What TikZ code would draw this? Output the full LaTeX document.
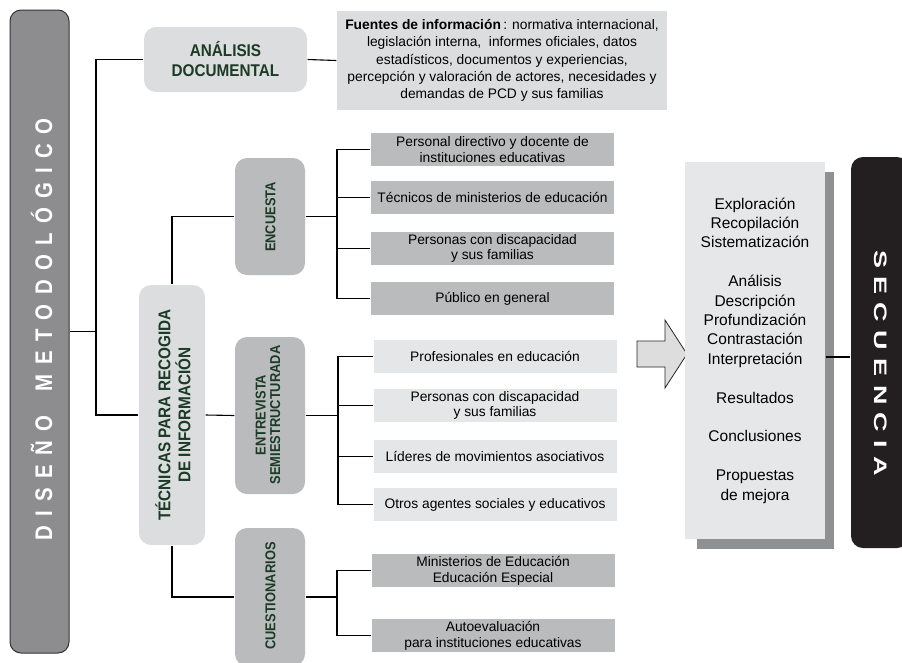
\documentclass[tikz,border=0pt]{standalone}
\usepackage{fontspec}
\setmainfont{Liberation Sans}
\newfontfamily\hdfont[FakeStretch=0.9]{Liberation Sans}
\newfontfamily\disfont[FakeStretch=0.85]{Liberation Sans}
\newfontfamily\secfont[FakeStretch=1.5]{Liberation Sans}

% letras separadas
\newcommand\spacedtext[2]{\def\gapw{#1}\spacedloop#2\relax}
\def\spacedloop#1{\ifx#1\relax\else#1\hskip\gapw\expandafter\spacedloop\fi}

\definecolor{disgray}{HTML}{8D8D8F}
\definecolor{disline}{HTML}{333333}
\definecolor{lightbox}{HTML}{DCDDDE}
\definecolor{midbox}{HTML}{BABBBD}
\definecolor{lightitem}{HTML}{E5E6E7}
\definecolor{seqgray}{HTML}{E6E7E8}
\definecolor{shadowgray}{HTML}{8F9092}
\definecolor{arrowgray}{HTML}{DDDDDD}
\definecolor{secblack}{HTML}{231F20}
\definecolor{headgreen}{HTML}{1B3B26}

\begin{document}
\begin{tikzpicture}[x=1pt, y=-1pt, line width=1.1pt,
	every node/.style={inner sep=0pt},
	hd/.style={text=headgreen, align=center, font=\hdfont\bfseries\fontsize{17}{20}\selectfont},
	hds/.style={text=headgreen, align=center, font=\hdfont\bfseries\fontsize{14.3}{14.5}\selectfont},
	item/.style={minimum width=243pt, minimum height=33pt, align=center, font=\fontsize{13.8}{15.8}\selectfont}]
	\useasboundingbox (0,0) rectangle (902,662);

	% diseno
	\node[draw=disline, line width=1pt, fill=disgray, rounded corners=11pt,
		minimum width=59pt, minimum height=643pt] (dis) at (39.5,331.5) {};
	\node[rotate=90, text=white, font=\disfont\bfseries\fontsize{24}{26}\selectfont] (dist) at (41.5,329.4)
		{\spacedtext{9.3pt}{DISEÑO~METODOLÓGICO}};

	\node[fill=lightbox, rounded corners=12pt, minimum width=163pt, minimum height=65pt] (ana) at (225.5,59.5) {};
	\node[hd] (anat) at (ana) {ANÁLISIS\\DOCUMENTAL};
	\node[fill=lightbox, minimum width=330pt, minimum height=99pt, align=center,
		font=\fontsize{13.8}{17.2}\selectfont] (fue) at (502,60.5)
		{\textbf{Fuentes de información}\,: normativa internacional,\\
		legislación interna,\ \ informes oficiales, datos\\
		estadísticos, documentos y experiencias,\\
		percepción y valoración de actores, necesidades y\\
		demandas de PCD y sus familias};

	\node[fill=lightbox, rounded corners=12pt, minimum width=66pt, minimum height=260pt] (tec) at (172,415) {};
	\node[hd, rotate=90] (tect) at (173,415) {TÉCNICAS PARA RECOGIDA\\DE INFORMACIÓN};

	% tecnicas
	\node[fill=midbox, rounded corners=12pt, minimum width=70pt, minimum height=117pt] (enc) at (270,216.5) {};
	\node[hds, rotate=90] (enct) at (270.5,217) {ENCUESTA};
	\node[fill=midbox, rounded corners=12pt, minimum width=70pt, minimum height=157pt] (ent) at (270,415.5) {};
	\node[hds, rotate=90] (entt) at (268,415) {ENTREVISTA\\SEMIESTRUCTURADA};
	\node[fill=midbox, rounded corners=12pt, minimum width=70pt, minimum height=138pt] (cue) at (270,597) {};
	\node[hds, rotate=90] (cuet) at (270.5,596) {CUESTIONARIOS};

	\node[item, fill=midbox] (e1) at (492.5,149.5) {Personal directivo y docente de\\instituciones educativas};
	\node[item, fill=midbox] (e2) at (492.5,197.5) {Técnicos de ministerios de educación};
	\node[item, fill=midbox] (e3) at (492.5,248.5) {Personas con discapacidad\\y sus familias};
	\node[item, fill=midbox] (e4) at (492.5,298.5) {Público en general};

	\node[item, fill=lightitem] (v1) at (495,356.5) {Profesionales en educación};
	\node[item, fill=lightitem] (v2) at (495,405.5) {Personas con discapacidad\\y sus familias};
	\node[item, fill=lightitem] (v3) at (495,456.5) {Líderes de movimientos asociativos};
	\node[item, fill=lightitem] (v4) at (495,504.5) {Otros agentes sociales y educativos};

	\node[item, fill=midbox] (c1) at (493,570.5) {Ministerios de Educación\\Educación Especial};
	\node[item, fill=midbox] (c2) at (493,635.5) {Autoevaluación\\para instituciones educativas};

	% secuencia
	\draw[fill=arrowgray, draw=black!85, line width=0.8pt] (637,341) -- (665,341) -- (665,320) -- (687,354)
		-- (665,388) -- (665,367) -- (637,367) -- cycle;
	\node[fill=shadowgray, minimum width=137pt, minimum height=377pt] (seqs) at (765.5,360.5) {};
	\node[fill=seqgray, minimum width=140pt, minimum height=377pt] (seq) at (755,350.5) {};
	\node[align=center, font=\fontsize{15.5}{19.4}\selectfont] (seqt) at (seq)
		{Exploración\\Recopilación\\Sistematización\\[19.4pt]
		Análisis\\Descripción\\Profundización\\Contrastación\\Interpretación\\[19.4pt]
		Resultados\\[19.4pt]Conclusiones\\[19.4pt]Propuestas\\de mejora};
	\node[fill=secblack, rounded corners=12pt, minimum width=58pt, minimum height=391pt] (sec) at (880,352.5) {};
	\node[rotate=-90, text=white, font=\secfont\bfseries\fontsize{18}{20}\selectfont] (sect) at (880.5,363.2)
		{\spacedtext{8.4pt}{SECUENCIA}};

	% lineas
	\coordinate (j1) at (96,331.5);
	\draw (dis.east) -- (j1);
	\draw (ana.west) -| (j1) |- (tec.west);
	\draw (ana.east) -- (fue.west);
	\draw (tec.north) |- (enc.west);
	\draw (tec.east) -- (ent.west);
	\draw (tec.south) |- (cue.west);
	\coordinate (j2) at (337,216.5);
	\draw (enc.east) -- (j2);
	\foreach \i in {1,...,4}
		\draw (j2) |- (e\i.west);
	\coordinate (j3) at (338,415.5);
	\draw (ent.east) -- (j3);
	\foreach \i in {1,...,4}
		\draw (j3) |- (v\i.west);
	\coordinate (j4) at (337,597);
	\draw (cue.east) -- (j4);
	\foreach \i in {1,2}
		\draw (j4) |- (c\i.west);
	\draw ([yshift=-6.5pt]seq.east) -- ([yshift=-6.5pt]seq.east -| sec.west);
\end{tikzpicture}
\end{document}
